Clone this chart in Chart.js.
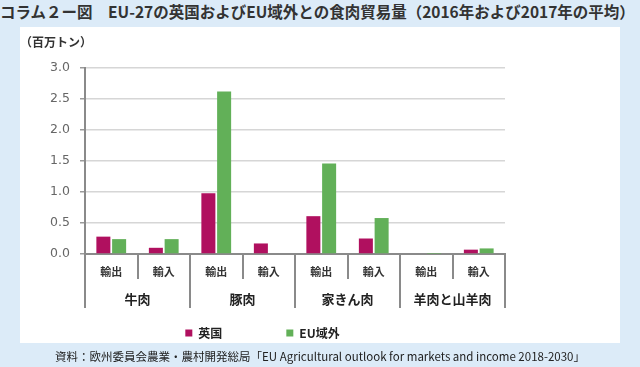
<!DOCTYPE html>
<html>
<head>
<meta charset="utf-8">
<script src="https://cdn.jsdelivr.net/npm/chart.js@4"></script>
<style>
  html, body { margin:0; padding:0; }
  body { width:640px; height:367px; overflow:hidden; background:#dcebf8; position:relative; font-family:"Noto Sans CJK JP", sans-serif; }
  #title { position:absolute; left:0; top:1px; width:700px; white-space:nowrap; font-size:15.5px; font-weight:bold; color:#333; line-height:20px; }
  #panel { position:absolute; left:20px; top:27px; width:600px; height:316px; background:#fff; }
  #wrap { position:absolute; left:20px; top:27px; width:600px; height:340px; }
  #foot { position:absolute; left:0; top:350px; width:640px; text-align:center; font-size:11.5px; color:#222; line-height:13px; white-space:nowrap; }
</style>
</head>
<body>
<div id="title">コラム２ー図　EU-27の英国およびEU域外との食肉貿易量（2016年および2017年の平均）</div>
<div id="panel"></div>
<div id="wrap"><canvas id="c" width="600" height="340"></canvas></div>
<div id="foot">資料：欧州委員会農業・農村開発総局「EU Agricultural outlook for markets and income 2018-2030」</div>
<script>
const subCategories = ["輸出","輸入","輸出","輸入","輸出","輸入","輸出","輸入"];
const groups = ["牛肉","豚肉","家きん肉","羊肉と山羊肉"];
const seriesNames = ["英国","EU域外"];
const ukValues = [0.28, 0.10, 0.98, 0.17, 0.61, 0.25, 0.0, 0.07];
const extraEuValues = [0.24, 0.24, 2.62, 0.0, 1.46, 0.58, 0.004, 0.09];
const yTicks = [0.0, 0.5, 1.0, 1.5, 2.0, 2.5, 3.0];

const axisGrey = '#8a8a8a';
const cjk = '"Noto Sans CJK JP", sans-serif';

new Chart(document.getElementById('c'), {
  type: 'bar',
  data: {
    labels: subCategories,
    datasets: [
      { label: seriesNames[0], data: ukValues, backgroundColor: '#b0105f', categoryPercentage: 0.6, barPercentage: 0.89 },
      { label: seriesNames[1], data: extraEuValues, backgroundColor: '#62b058', categoryPercentage: 0.6, barPercentage: 0.89 }
    ]
  },
  options: {
    responsive: false,
    animation: false,
    layout: { padding: { top: 8, right: 115, bottom: 18, left: 0 } },
    plugins: {
      title: {
        display: true, text: '（百万トン）', align: 'start',
        font: { family: cjk, size: 12, weight: 'bold' }, color: '#333',
        padding: { top: 0, bottom: 18.6 }
      },
      legend: {
        position: 'bottom',
        title: { display: true, text: ' ', font: { size: 12 }, padding: { top: -60.4, bottom: 0 } },
        labels: {
          boxWidth: 7, boxHeight: 7, padding: 64,
          font: { family: cjk, size: 12, weight: 'bold' }, color: '#222'
        }
      },
      tooltip: { enabled: false }
    },
    scales: {
      x: {
        weight: 0,
        grid: { display: true, drawOnChartArea: false, drawTicks: true, tickLength: 25, color: axisGrey, lineWidth: 2, offset: true },
        border: { display: true, color: axisGrey, width: 2 },
        ticks: { padding: -14, font: { family: cjk, size: 11, weight: 'bold' }, color: '#333', maxRotation: 0, autoSkip: false },
        afterFit: s => { s.height = 25; }
      },
      x2: {
        type: 'category', position: 'bottom', weight: 1, labels: groups, offset: true,
        grid: { display: true, drawOnChartArea: false, drawTicks: true, tickLength: 29, color: axisGrey, lineWidth: 2, offset: true },
        border: { display: false },
        ticks: { padding: -17, font: { family: cjk, size: 13, weight: 'bold' }, color: '#222', maxRotation: 0, autoSkip: false },
        afterFit: s => { s.height = 30; }
      },
      y: {
        min: 0, max: 3,
        afterBuildTicks: s => { s.ticks = yTicks.map(v => ({ value: v })); },
        grid: { color: '#d6d6d6', lineWidth: 1.5, tickLength: 5, tickColor: '#9a9a9a' },
        border: { display: true, color: axisGrey, width: 2 },
        ticks: { padding: 10, font: { family: '"DejaVu Sans", sans-serif', size: 12.5 }, color: '#666', callback: v => Number(v).toFixed(1) },
        afterFit: s => { s.width = 65; }
      }
    }
  }
});
</script>
</body>
</html>
